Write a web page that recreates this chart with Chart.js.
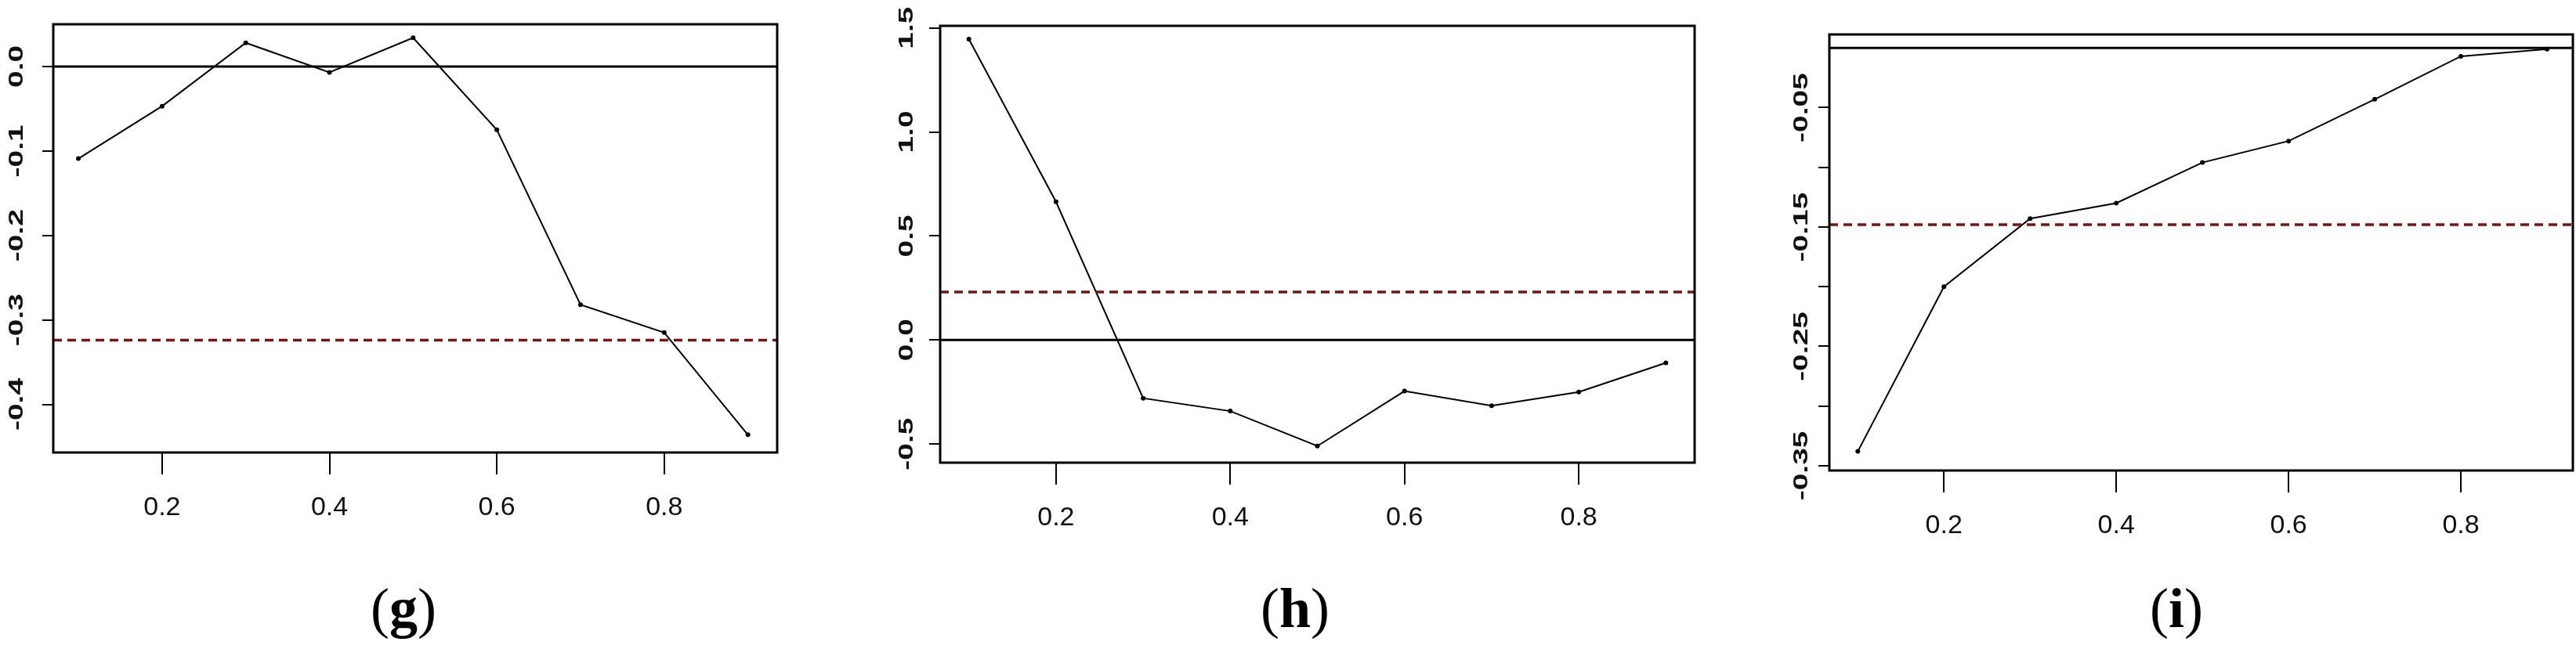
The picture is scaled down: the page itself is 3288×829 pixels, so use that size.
<!DOCTYPE html>
<html><head><meta charset="utf-8">
<script src="https://cdn.jsdelivr.net/npm/chart.js@4"></script>
<style>
body{margin:0;background:#fff;width:3288px;height:829px;position:relative;overflow:hidden}
.c{position:absolute;top:0;height:829px}
.cap{position:absolute;font-family:"Liberation Serif","DejaVu Serif",serif;font-size:72px;transform:translate(-50%,-50%)}
.cap b{font-weight:bold}
</style></head><body>
<div class="c" style="left:0;width:1100px"><canvas id="g"></canvas></div>
<div class="c" style="left:1100px;width:1100px"><canvas id="h"></canvas></div>
<div class="c" style="left:2200px;width:1088px"><canvas id="i"></canvas></div>
<div class="cap" style="left:515px;top:777px">(<b>g</b>)</div>
<div class="cap" style="left:1653px;top:777px">(<b>h</b>)</div>
<div class="cap" style="left:2778px;top:777px">(<b>i</b>)</div>
<script>
const xValues=[0.1,0.2,0.3,0.4,0.5,0.6,0.7,0.8,0.9];
const xTicks=[0.2,0.4,0.6,0.8];
const gValues=[-0.109,-0.047,0.028,-0.007,0.034,-0.075,-0.282,-0.315,-0.436];
const gRef=-0.324;
const gTicks=[0.0,-0.1,-0.2,-0.3,-0.4];
const hValues=[1.446,0.664,-0.28,-0.342,-0.51,-0.246,-0.316,-0.25,-0.11];
const hRef=0.23;
const hTicks=[1.5,1.0,0.5,0.0,-0.5];
const iValues=[-0.338,-0.200,-0.143,-0.130,-0.096,-0.078,-0.043,-0.007,-0.001];
const iRef=-0.148;
const iTicks=[-0.05,-0.10,-0.15,-0.20,-0.25,-0.30,-0.35];
const iLabels={"-0.05":"-0.05","-0.15":"-0.15","-0.25":"-0.25","-0.35":"-0.35"};

function make(id,cfg){
  const W=cfg.w,H=829;
  const cv=document.getElementById(id);cv.width=W;cv.height=H;cv.style.width=W+'px';cv.style.height=H+'px';
  const xmin=cfg.xmin,xmax=cfg.xmax;
  const plug={id:'p'+id,afterDraw(c){
    const ctx=c.ctx,a=c.chartArea,y=c.scales.y;
    ctx.save();ctx.strokeStyle='#000';ctx.lineWidth=3;
    ctx.strokeRect(a.left,a.top,a.right-a.left,a.bottom-a.top);
    ctx.fillStyle='#111';ctx.font='bold 26px "Liberation Sans",Arial,sans-serif';
    ctx.textAlign='center';ctx.textBaseline='middle';
    cfg.yTicks.forEach(v=>{
      const lab=cfg.labelFn(v);if(!lab)return;
      ctx.save();ctx.translate(cfg.labX,y.getPixelForValue(v));ctx.rotate(-Math.PI/2);
      ctx.scale(1.5,1);ctx.fillText(lab,0,0);ctx.restore();
    });
    ctx.restore();
  }};
  new Chart(cv,{type:'line',
    data:{datasets:[
      {data:[{x:xmin,y:0},{x:xmax,y:0}],borderColor:'#000',borderWidth:3,pointRadius:0},
      {data:[{x:xmin,y:cfg.ref},{x:xmax,y:cfg.ref}],borderColor:'#7a1414',borderWidth:3.5,borderDash:[11,7],pointRadius:0},
      {data:xValues.map((x,k)=>({x,y:cfg.vals[k]})),borderColor:'#000',borderWidth:2,pointRadius:3,pointBackgroundColor:'#000',pointBorderWidth:0}
    ]},
    options:{responsive:false,animation:false,devicePixelRatio:1,
      layout:{padding:{top:cfg.top,right:W-cfg.right,left:0,bottom:0}},
      plugins:{legend:{display:false},tooltip:{enabled:false}},
      scales:{
        x:{type:'linear',min:xmin,max:xmax,
          afterBuildTicks:s=>{s.ticks=xTicks.map(v=>({value:v}));},
          afterFit:s=>{s.height=H-cfg.bottom;},
          grid:{drawOnChartArea:false,drawTicks:true,tickLength:28,color:'#000',lineWidth:2},
          border:{display:false},
          ticks:{padding:22,color:'#111',font:{family:'"Liberation Sans Narrow","Liberation Sans",Arial',size:34},callback:v=>v.toFixed(1),maxRotation:0}},
        y:{type:'linear',min:cfg.ymin,max:cfg.ymax,
          afterBuildTicks:s=>{s.ticks=cfg.yTicks.map(v=>({value:v}));},
          afterFit:s=>{s.width=cfg.left;},
          grid:{drawOnChartArea:false,drawTicks:true,tickLength:14,color:'#000',lineWidth:2},
          border:{display:false},
          ticks:{display:false}}
      }},plugins:[plug]});
}
make('g',{w:1100,left:68,right:992,top:31,bottom:578,xmin:0.07,xmax:0.935,ymin:-0.457,ymax:0.050,vals:gValues,ref:gRef,yTicks:gTicks,labX:22,labelFn:v=>v.toFixed(1)});
make('h',{w:1100,left:100,right:1063,top:33,bottom:591,xmin:0.067,xmax:0.933,ymin:-0.59,ymax:1.51,vals:hValues,ref:hRef,yTicks:hTicks,labX:58,labelFn:v=>v.toFixed(1)});
make('i',{w:1088,left:135,right:1086,top:44,bottom:601,xmin:0.067,xmax:0.93,ymin:-0.354,ymax:0.0113,vals:iValues,ref:iRef,yTicks:iTicks,labX:100,labelFn:v=>iLabels[v.toFixed(2)]||''});
</script></body></html>
